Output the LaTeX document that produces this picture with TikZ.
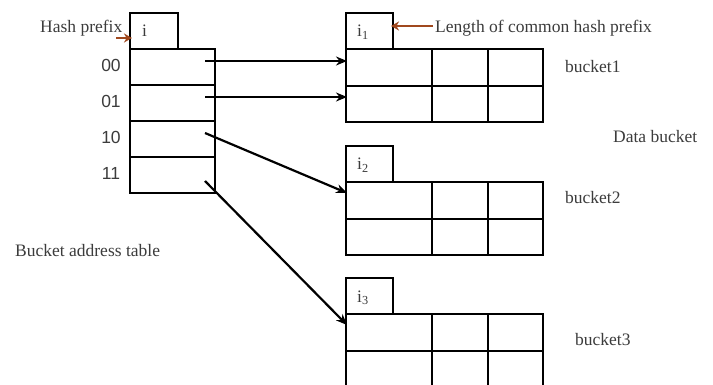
\documentclass[tikz,border=0pt]{standalone}
\usepackage{fontspec}
\setmainfont{Liberation Serif}
\newfontfamily\arialf{Liberation Sans}
\usetikzlibrary{arrows.meta}
\definecolor{hintc}{RGB}{160,72,30}
\definecolor{txtc}{RGB}{60,60,60}
\begin{document}
\begin{tikzpicture}[x=1pt,y=-1pt,
  box/.style={draw=black, line width=2.6pt},
  lbl/.style={font=\fontsize{17.5}{20}\selectfont, text=txtc, inner sep=0pt},
  digit/.style={font=\arialf\fontsize{17.5}{20}\selectfont, text=txtc, inner sep=0pt, anchor=base},
  ptr/.style={-{Stealth[length=11pt,width=9pt]}, line width=2.2pt},
  hint/.style={draw=hintc, line width=2.6pt, -{Stealth[length=8pt,width=9pt]}}]
\useasboundingbox (0,0) rectangle (713,385);
\clip (0,0) rectangle (713,385);
\fill[white] (0,0) rectangle (713,385);

% bucket address table
\draw[box] (130,49) -- (130,13) -- (178,13) -- (178,49);
\draw[box] (130,49) rectangle (215,193);
\foreach \y in {85,121,157} \draw[box] (130,\y) -- (215,\y);
\node[lbl, anchor=base west] (ilbl) at (142,37) {i};
\node[digit] (d00) at (111,72) {00};
\node[digit] (d01) at (111,108) {01};
\node[digit] (d10) at (111,144) {10};
\node[digit] (d11) at (111,180) {11};
\node[lbl, anchor=base west] (hp) at (40,33) {Hash prefix};
\node[lbl, anchor=base west] (bat) at (15,256) {Bucket address table};

% buckets
\foreach \T/\n in {49/1,182/2,314/3}{
  \draw[box] (346,\T) -- (346,\T-36) -- (393,\T-36) -- (393,\T);
  \draw[box] (346,\T) rectangle (543,\T+73);
  \draw[box] (346,\T+37) -- (543,\T+37);
  \draw[box] (432,\T) -- (432,\T+73);
  \draw[box] (488,\T) -- (488,\T+73);
  \node[lbl, anchor=base west] (ib\n) at (357,\T-12) {i\textsubscript{\n}};
}
\node[lbl, anchor=base west] (bk1) at (565,73) {bucket1};
\node[lbl, anchor=base west] (bk2) at (565,204) {bucket2};
\node[lbl, anchor=base west] (bk3) at (575,345) {bucket3};
\node[lbl, anchor=base west] (db) at (613,143) {Data bucket};
\node[lbl, anchor=base west] (lcp) at (435,33) {Length of common hash prefix};

% pointer coordinates
\coordinate (s00) at (205,61);
\coordinate (s01) at (205,97);
\coordinate (s10) at (205,133);
\coordinate (s11) at (205,181);
\coordinate (e1a) at (347,61);
\coordinate (e1b) at (347,97);
\coordinate (e2) at (347,193);
\coordinate (e3) at (347,325);
\draw[ptr] (s00) -- (e1a);
\draw[ptr] (s01) -- (e1b);
\draw[ptr] (s10) -- (e2);
\draw[ptr] (s11) -- (e3);

% hint arrows
\coordinate (hpa) at (116,38);
\coordinate (hpb) at (132,38);
\coordinate (lca) at (433,26);
\coordinate (lcb) at (391,26);
\draw[hint] (hpa) -- (hpb);
\draw[hint] (lca) -- (lcb);
\end{tikzpicture}
\end{document}
